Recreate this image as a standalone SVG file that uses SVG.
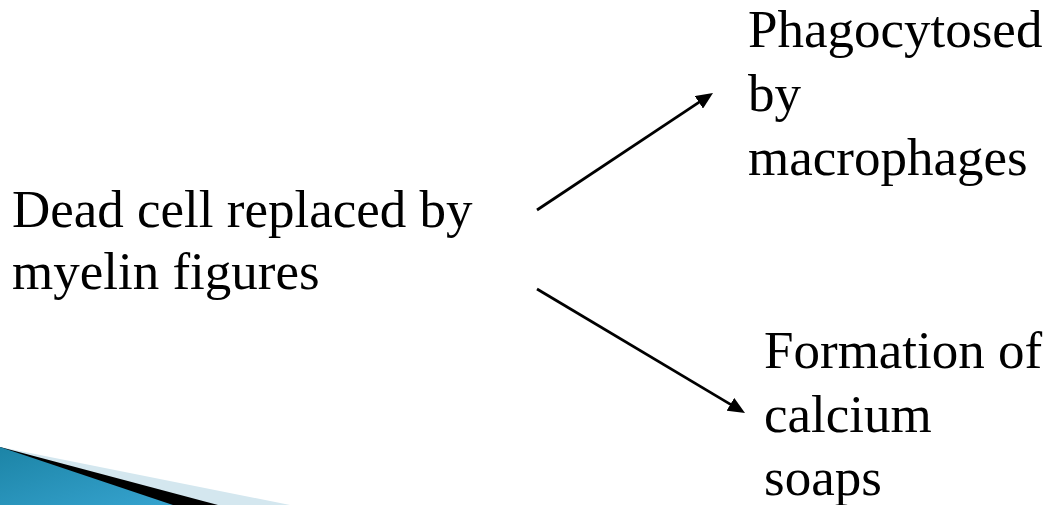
<svg xmlns="http://www.w3.org/2000/svg" width="1051" height="505" viewBox="0 0 1051 505">
  <style>
    .t { font-family: "Liberation Serif", "Times New Roman", serif; font-size: 53px; fill: #000; }
    .c { stroke: #000; stroke-width: 2.75; fill: none; marker-end: url(#ah); }
  </style>
  <defs>
    <marker id="ah" markerUnits="userSpaceOnUse" markerWidth="18" markerHeight="15" refX="5" refY="7.5" orient="auto">
      <path d="M0,0 L17,7.5 L0,15 z" fill="#000"/>
    </marker>
    <linearGradient id="bg" x1="0" y1="0" x2="1" y2="1">
      <stop offset="0" stop-color="#1c84a6"/>
      <stop offset="1" stop-color="#36a3cf"/>
    </linearGradient>
  </defs>
  <rect width="1051" height="505" fill="#fff"/>
  <g id="decor">
    <polygon points="0,447 290,505 0,505" fill="#d4e7ef"/>
    <polygon points="0,447 218,505 0,505" fill="#000"/>
    <polygon points="0,447 173,505 0,505" fill="url(#bg)"/>
  </g>
  <g id="connectors">
    <line class="c" x1="537" y1="210" x2="703" y2="99.6"/>
    <line class="c" x1="537" y1="289" x2="734.7" y2="406.9"/>
  </g>
  <g id="node-dead-cell">
    <text class="t" x="12" y="227">Dead cell replaced by</text>
    <text class="t" x="12" y="289">myelin figures</text>
  </g>
  <g id="node-phagocytosed">
    <text class="t" x="748" y="47">Phagocytosed</text>
    <text class="t" x="748" y="111">by</text>
    <text class="t" x="748" y="175">macrophages</text>
  </g>
  <g id="node-calcium">
    <text class="t" x="764" y="368">Formation of</text>
    <text class="t" x="764" y="432">calcium</text>
    <text class="t" x="764" y="495">soaps</text>
  </g>
</svg>
